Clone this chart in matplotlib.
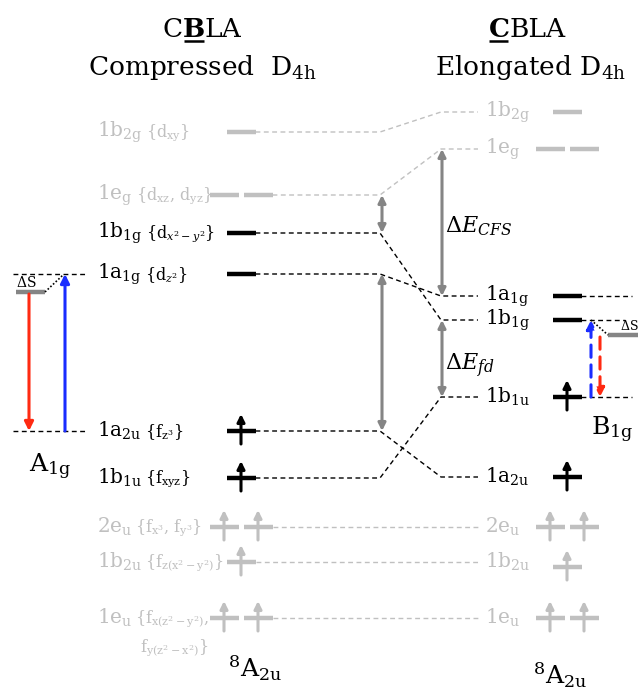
import matplotlib
matplotlib.use('Agg')
import matplotlib.pyplot as plt

plt.rcParams['font.family'] = 'DejaVu Serif'
plt.rcParams['mathtext.fontset'] = 'dejavuserif'

# ---------------- data ----------------
orb_names = [r'1b$_{\mathrm{2g}}$', r'1e$_{\mathrm{g}}$', r'1b$_{\mathrm{1g}}$',
             r'1a$_{\mathrm{1g}}$', r'1a$_{\mathrm{2u}}$', r'1b$_{\mathrm{1u}}$',
             r'2e$_{\mathrm{u}}$', r'1b$_{\mathrm{2u}}$', r'1e$_{\mathrm{u}}$']
orb_basis = [r'{d$_{\mathrm{xy}}$}', r'{d$_{\mathrm{xz}}$, d$_{\mathrm{yz}}$}',
             r'{d$_{x^2-y^2}$}', r'{d$_{z^2}$}', r'{f$_{\mathrm{z}^3}$}',
             r'{f$_{\mathrm{xyz}}$}', r'{f$_{\mathrm{x}^3}$, f$_{\mathrm{y}^3}$}',
             r'{f$_{\mathrm{z(x^2-y^2)}}$}', r'{f$_{\mathrm{x(z^2-y^2)}}$,']
orb_basis_extra = {8: r'f$_{\mathrm{y(z^2-x^2)}}$}'}
# level energies (drawn downward = lower energy), same orbital order in both lists
compressed_E = [132, 195, 233, 274, 431, 478, 527, 562, 618]
elongated_E = [112, 149, 320, 296, 477, 397, 527, 562, 618]
degeneracy = [1, 2, 1, 1, 1, 1, 2, 1, 2]
electrons = [0, 0, 0, 0, 1, 1, 1, 1, 1]   # per orbital
inactive = [1, 1, 0, 0, 0, 0, 1, 1, 1]
stokes_left = 18
stokes_right = 15

W, H = 639, 697
fig = plt.figure(figsize=(W / 100, H / 100), dpi=100)
ax = fig.add_axes([0, 0, 1, 1])
ax.set_xlim(0, W)
ax.set_ylim(H, 0)
ax.axis('off')
renderer = fig.canvas.get_renderer()

GRAY_T = '#c0c0c0'
GRAY_A = '#858585'
BLACK = '#000000'


def width_of(t):
    bb = t.get_window_extent(renderer)
    return bb.width


def rich(xc, yb, parts, size, underline=None):
    texts = []
    for s, bold in parts:
        t = ax.text(0, yb, s, fontsize=size, fontweight='bold' if bold else 'normal',
                    ha='left', va='baseline')
        texts.append(t)
    ws = [width_of(t) for t in texts]
    x = xc - sum(ws) / 2
    for i, (t, w) in enumerate(zip(texts, ws)):
        t.set_x(x)
        if underline == i:
            ax.plot([x + 1, x + w - 1], [yb + 4, yb + 4], color='black', lw=1.8,
                    solid_capstyle='butt')
        x += w


rich(202, 37, [('C', False), ('B', True), ('LA', False)], 19, underline=1)
ax.text(202, 75, r'Compressed  D$_{\mathrm{4h}}$', fontsize=19, ha='center', va='baseline')
rich(527, 37, [('C', True), ('BLA', False)], 19, underline=0)
ax.text(531, 75, r'Elongated D$_{\mathrm{4h}}$', fontsize=19, ha='center', va='baseline')

XL, XR = 241, 567
HALF = 14.5
OFF = 17


def level(xc, y, deg, ne, color, arrow_color):
    centers = [xc] if deg == 1 else [xc - OFF, xc + OFF]
    for c in centers:
        ax.plot([c - HALF, c + HALF], [y, y], color=color, lw=3.2, solid_capstyle='butt')
        if ne:
            ax.annotate('', xy=(c, y - 17), xytext=(c, y + 13),
                        arrowprops=dict(arrowstyle='-|>', lw=2.2, color=arrow_color,
                                        mutation_scale=11, shrinkA=0, shrinkB=0))
    return centers[-1] + HALF


dash = (0, (3.5, 2.5))
for i in range(len(orb_names)):
    g = inactive[i]
    col = GRAY_T if g else BLACK
    yl, yr = compressed_E[i], elongated_E[i]
    endl = level(XL, yl, degeneracy[i], electrons[i], col, col)
    level(XR, yr + (5 if i == 7 else 0), degeneracy[i], electrons[i], col, col)
    # connector
    ax.plot([endl, 380, 441, 478], [yl, yl, yr, yr], color=col, lw=1.0, ls=dash)
    # left label
    t = ax.text(97, yl, orb_names[i], fontsize=14.5, color=col, ha='left', va='center')
    w = width_of(t)
    ax.text(97 + w + 3, yl + 1, orb_basis[i], fontsize=11.5, color=col, ha='left',
            va='center')
    if i in orb_basis_extra:
        ax.text(140, yl + 30, orb_basis_extra[i], fontsize=11.5, color=col,
                ha='left', va='center')
    # right label
    ax.text(485, yr, orb_names[i], fontsize=14.5, color=col, ha='left', va='center')


def dbl_arrow(x, y1, y2):
    ax.annotate('', xy=(x, y1), xytext=(x, y2),
                arrowprops=dict(arrowstyle='<|-|>', lw=2.2, color=GRAY_A,
                                mutation_scale=11, shrinkA=0, shrinkB=0))


dbl_arrow(382, compressed_E[1], compressed_E[2])
dbl_arrow(382, compressed_E[3], compressed_E[4])
dbl_arrow(442, elongated_E[1], elongated_E[3])
dbl_arrow(442, elongated_E[2], elongated_E[5])
ax.text(445, 226, r'$\Delta E_{CFS}$', fontsize=16, ha='left', va='center')
ax.text(445, 366, r'$\Delta E_{fd}$', fontsize=16, ha='left', va='center')

# ---- left state (A1g) ----
yt, yb = compressed_E[3], compressed_E[4]
ys = yt + stokes_left
ax.plot([13, 88], [yt, yt], color='black', lw=1.0, ls=dash)
ax.plot([13, 88], [yb, yb], color='black', lw=1.0, ls=dash)
ax.plot([16, 45], [ys, ys], color=GRAY_A, lw=3.2, solid_capstyle='butt')
ax.plot([45, 63], [ys, yt + 1], color='black', lw=1.2, ls=(0, (1, 1.2)))
ax.text(16, ys - 2, r'$\Delta$S', fontsize=10, ha='left', va='bottom')
ax.annotate('', xy=(29, yb), xytext=(29, ys + 2),
            arrowprops=dict(arrowstyle='-|>', lw=2.2, color='#ff2a12',
                            mutation_scale=13, shrinkA=0, shrinkB=0))
ax.annotate('', xy=(65, yt), xytext=(65, yb),
            arrowprops=dict(arrowstyle='-|>', lw=2.2, color='#1a2cff',
                            mutation_scale=13, shrinkA=0, shrinkB=0))
ax.text(50, 467, r'A$_{\mathrm{1g}}$', fontsize=18, ha='center', va='center')

# ---- right state (B1g) ----
y1, y2, y3 = elongated_E[3], elongated_E[2], elongated_E[5]
ys = y2 + stokes_right
ax.plot([581, 632], [y1, y1], color='black', lw=1.0, ls=dash)
ax.plot([581, 625], [y2, y2], color='black', lw=1.0, ls=dash)
ax.plot([581, 632], [y3, y3], color='black', lw=1.0, ls=dash)
ax.plot([608, 638], [ys, ys], color=GRAY_A, lw=3.2, solid_capstyle='butt')
ax.plot([591, 608], [y2, ys], color='black', lw=1.2, ls=(0, (1, 1.2)))
ax.text(620, ys - 2, r'$\Delta$S', fontsize=9, ha='left', va='bottom')
ax.annotate('', xy=(591, y2), xytext=(591, y3),
            arrowprops=dict(arrowstyle='-|>', lw=2.2, color='#1a2cff', ls=(0, (4, 2.5)),
                            mutation_scale=13, shrinkA=0, shrinkB=0))
ax.annotate('', xy=(600, y3), xytext=(600, ys + 2),
            arrowprops=dict(arrowstyle='-|>', lw=2.2, color='#ff2a12', ls=(0, (4, 2.5)),
                            mutation_scale=13, shrinkA=0, shrinkB=0))
ax.text(612, 430, r'B$_{\mathrm{1g}}$', fontsize=18, ha='center', va='center')

ax.text(255, 668, r'$^{8}$A$_{\mathrm{2u}}$', fontsize=18, ha='center', va='center')
ax.text(560, 675, r'$^{8}$A$_{\mathrm{2u}}$', fontsize=18, ha='center', va='center')

fig.savefig('out.png', dpi=100)
